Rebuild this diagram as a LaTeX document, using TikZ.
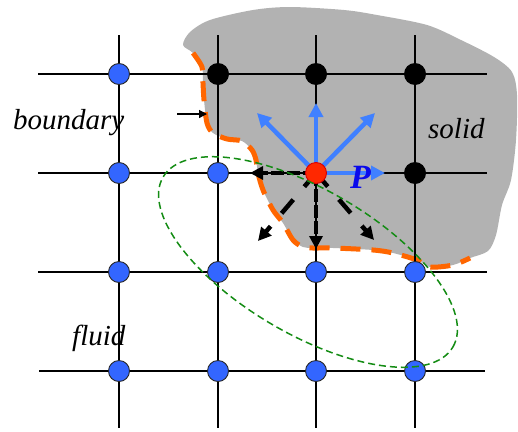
\documentclass[tikz,border=0pt]{standalone}
\usepackage{fontspec}
\setmainfont{Liberation Serif}
\usetikzlibrary{arrows.meta}
\definecolor{gridblue}{RGB}{51,102,255}
\definecolor{arrowblue}{RGB}{64,128,255}
\definecolor{solidgray}{RGB}{178,178,178}
\definecolor{bndorange}{RGB}{255,102,0}
\definecolor{ellgreen}{RGB}{20,140,20}
\definecolor{pblue}{RGB}{10,10,235}
\definecolor{pred}{RGB}{255,40,0}
\begin{document}
\begin{tikzpicture}[x=1pt,y=-1pt,
  gridline/.style={line width=2.2pt},
  topgridline/.style={line width=1.5pt},
  fluidnode/.style={circle,draw=black!85,line width=0.9pt,fill=gridblue,minimum size=21pt,inner sep=0pt},
  solidnode/.style={circle,fill=black,minimum size=22pt,inner sep=0pt},
  pnode/.style={circle,draw=red!85!black,line width=0.9pt,fill=pred,minimum size=21pt,inner sep=0pt},
  bluearrow/.style={arrowblue,line width=4.5pt,-{Triangle[length=14pt,width=14pt]}},
  blackarrow/.style={black,line width=4.5pt,dash pattern=on 13pt off 3pt,-{Triangle[length=13pt,width=13pt]}},
  blackdiag/.style={black,line width=4.5pt,dash pattern=on 18pt off 17pt,-{Triangle[length=13pt,width=13pt]}},
  pointer/.style={black,line width=1.2pt,-{Triangle[length=8pt,width=8pt]}},
  labeltext/.style={font=\itshape\fontsize{29}{29}\selectfont,inner sep=0pt,anchor=base west},
  ptext/.style={font=\bfseries\itshape\fontsize{34}{34}\selectfont,text=pblue,inner sep=0pt,anchor=base west},
  boundaryline/.style={bndorange,line width=5pt,dash pattern=on 20pt off 11pt},
  regionline/.style={ellgreen,line width=1.5pt,dash pattern=on 7pt off 4pt},
]
\useasboundingbox (0,0) rectangle (518,431);

% solid region
\fill[solidgray] plot[smooth cycle,tension=0.5] coordinates {
 (183,45) (190,32) (210,20) (253,10) (290,7) (344,10) (377,15) (427,25)
 (461,40) (494,57) (512,72) (517,95) (516,140) (511,180) (502,205) (496,235)
 (488,251) (470,258) (453,265) (430,267) (417,260) (393,253) (373,250)
 (333,248) (313,248) (303,247) (293,240) (283,223) (273,210) (263,190)
 (258,173) (256,160) (252,150) (242,141) (227,139) (213,133) (207,123)
 (204,100) (203,83) (202,67) (193,53)};

% boundary
\draw[boundaryline] plot[smooth,tension=0.5] coordinates {
 (193,53) (202,67) (203,83) (204,100) (207,123) (213,133) (227,139) (242,141)
 (252,150) (256,160) (258,173) (263,190) (273,210) (283,223) (293,240)
 (303,247) (313,248) (333,248) (373,250) (393,253) (417,260) (430,267)
 (453,265) (470,258)};

% grid lines
\draw[topgridline] (38,74) -- (487,74);
\foreach \y in {173,272} \draw[gridline] (38,\y) -- (487,\y);
\draw[gridline] (39,371) -- (485,371);
\foreach \x in {119,218,316,415} \draw[gridline] (\x,35) -- (\x,428);

% grid nodes
\node[fluidnode] (n11) at (119,74) {};
\node[solidnode] (n12) at (218,74) {};
\node[solidnode] (n13) at (316,74) {};
\node[solidnode] (n14) at (415,74) {};
\node[fluidnode] (n21) at (119,173) {};
\node[fluidnode] (n22) at (218,173) {};
\node[solidnode] (n24) at (415,173) {};
\foreach \c/\x in {1/119,2/218,3/316,4/415}{
  \node[fluidnode] (n3\c) at (\x,272) {};
  \node[fluidnode] (n4\c) at (\x,371) {};
}

% directions from P
\coordinate (Pc) at (316,173);
\coordinate (tN) at (316,103);
\coordinate (tNW) at (257,113);
\coordinate (tNE) at (375,113);
\coordinate (tE) at (385,173);
\coordinate (tW) at (250,173);
\coordinate (tS) at (316,249);
\coordinate (tSW) at (258,241);
\coordinate (tSE) at (374,240);
\draw[bluearrow] (Pc) -- (tN);
\draw[bluearrow] (Pc) -- (tNW);
\draw[bluearrow] (Pc) -- (tNE);
\draw[bluearrow] (Pc) -- (tE);
\draw[blackarrow] (Pc) -- (tW);
\draw[blackarrow] (Pc) -- (tS);
\draw[blackdiag] (Pc) -- (tSW);
\draw[blackdiag] (Pc) -- (tSE);
\node[pnode] (P) at (Pc) {};
\node[ptext] (Plabel) at (350,188) {P};

% labels
\node[labeltext] (boundary) at (13,129) {boundary};
\node[labeltext] (solid) at (428,138) {solid};
\node[labeltext] (fluid) at (72,345) {fluid};
\coordinate (ptrStart) at (177,114);
\coordinate (ptrEnd) at (207,114);
\draw[pointer] (ptrStart) -- (ptrEnd);

% region of influence
\draw[regionline,rotate around={-30.4:(308,262)}] (308,262) ellipse [x radius=168pt, y radius=72pt];
\end{tikzpicture}
\end{document}
